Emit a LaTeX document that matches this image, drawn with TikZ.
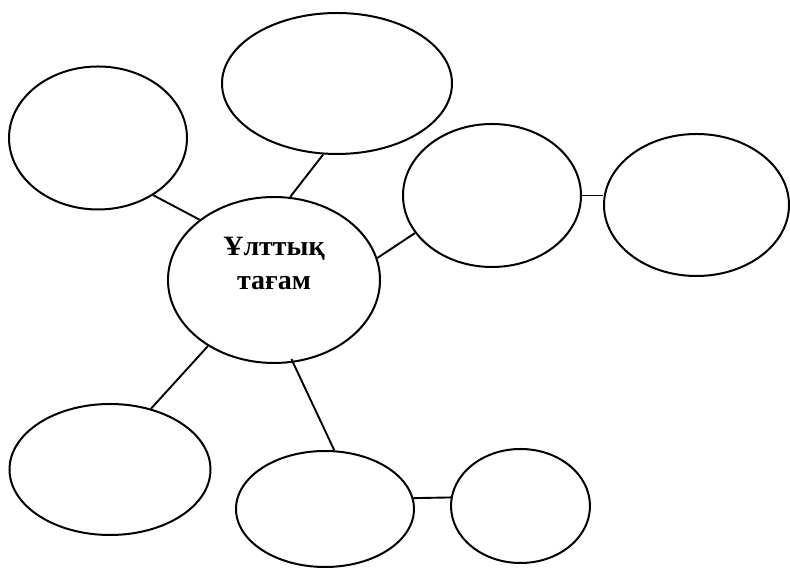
\documentclass[tikz,border=0pt]{standalone}
\usepackage{fontspec}
\setmainfont{Liberation Serif}
\usetikzlibrary{shapes.geometric}
\begin{document}
\begin{tikzpicture}[x=1pt,y=1pt,
  bubble/.style={ellipse,draw=black,line width=2pt,inner sep=0pt,fill=white},
  link/.style={draw=black,line width=1.9pt}]
\useasboundingbox[fill=white] (0,0) rectangle (790,569);
\node[bubble,minimum width=178,minimum height=143] (A) at (98,431) {};
\node[bubble,minimum width=230,minimum height=141] (B) at (337,485.5) {};
\node[bubble,minimum width=212,minimum height=166] (C) at (274,289) {};
\node[bubble,minimum width=178,minimum height=143] (D) at (492,373.5) {};
\node[bubble,minimum width=185,minimum height=142] (E) at (696.5,364) {};
\node[bubble,minimum width=201,minimum height=131] (F) at (110,99.5) {};
\node[bubble,minimum width=178,minimum height=116] (G) at (325,60) {};
\node[bubble,minimum width=139,minimum height=114] (H) at (520.5,63) {};
\node[font=\fontsize{28}{34}\selectfont\bfseries,align=center,inner sep=0pt] (T) at (274,306) {Ұлттық\\тағам};
\draw[link] (A.-46) -- (C.141.3);
\draw[link] (B.-101.8) -- (C.79.2);
\draw[link] (C.12.2) -- (D.-154);
\draw[link] (D.east) -- (D.east -| E.west);
\draw[link] (C.-135.9) -- (F.56.7);
\draw[link,shorten <=-4pt] (C.-77) -- (G.81.3);
\draw[link] (G.7.1) -- (H.173.5);
\end{tikzpicture}
\end{document}
